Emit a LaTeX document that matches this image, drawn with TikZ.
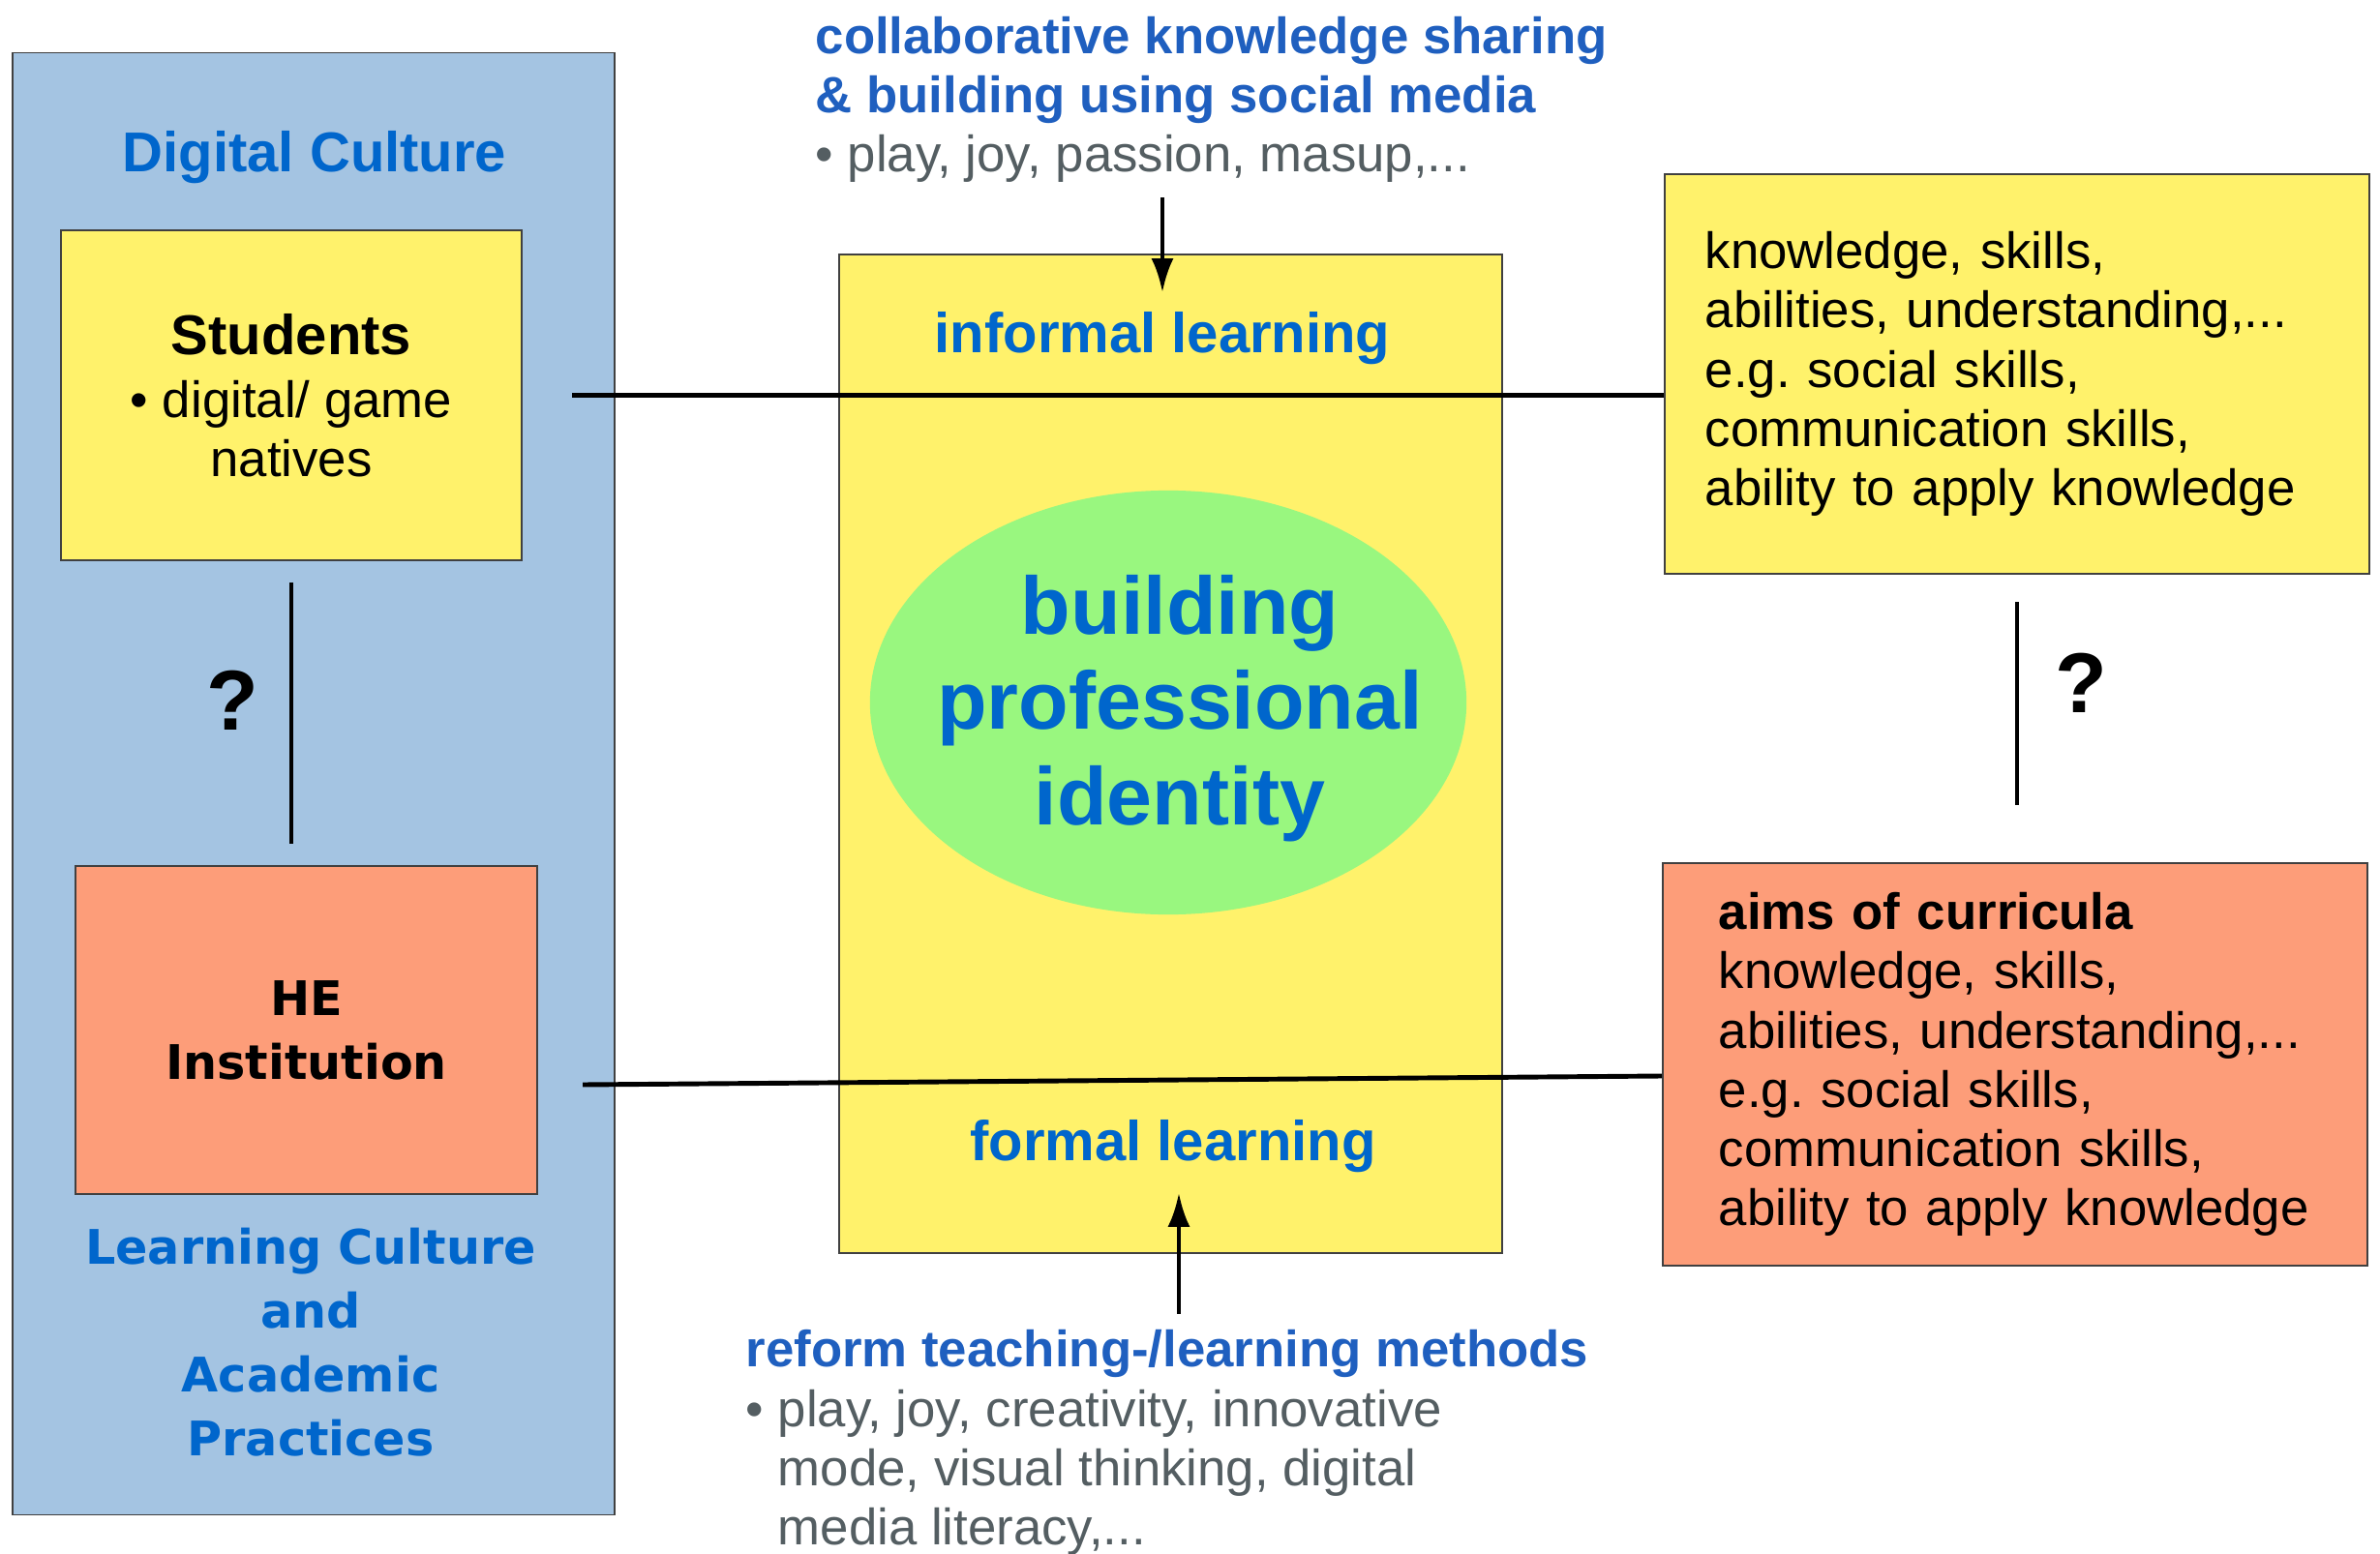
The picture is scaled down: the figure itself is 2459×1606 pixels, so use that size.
\documentclass[tikz,border=0pt]{standalone}
\usepackage{fontspec}
\setmainfont{Liberation Sans}
\newfontfamily\widefont{DejaVu Sans}
\usetikzlibrary{calc,arrows.meta,shapes.geometric}
\definecolor{cultureblue}{RGB}{164,196,226}
\definecolor{noteyellow}{RGB}{255,242,107}
\definecolor{noteorange}{RGB}{253,157,121}
\definecolor{identgreen}{RGB}{153,247,127}
\definecolor{titleblue}{RGB}{0,102,204}
\definecolor{headblue}{RGB}{31,95,191}
\definecolor{notegray}{RGB}{84,94,98}
\frenchspacing

\begin{document}
\begin{tikzpicture}[x=0.01cm, y=-0.01cm, >={Latex[length=10pt,width=6.5pt]},
	box/.style={draw=black!75, line width=0.5pt, inner sep=0pt},
	conn/.style={line width=1.4pt},
	body/.style={font=\fontsize{15}{17.4}\selectfont},
	head/.style={font=\fontsize{16.5}{19}\selectfont\bfseries, text=titleblue},
	wide/.style={font=\widefont\bfseries\fontsize{14}{18.8}\selectfont},
	quest/.style={font=\fontsize{25}{30}\selectfont\bfseries}]
			\useasboundingbox (0,0) rectangle (2459,1606);

			% Draw the culture column on the left
			\node[box, fill=cultureblue, minimum width=6.22cm, minimum height=15.10cm] (culture) at (324,810) {};
			\node[head] (digital) at (325,163) {Digital Culture};
			\node[box, fill=noteyellow, minimum width=4.76cm, minimum height=3.41cm, body, align=center] (students) at (301,408.5) {{\fontsize{16.5}{19}\selectfont\bfseries Students}\\[1pt]• digital/ game\\natives};
			\node[quest] (qleft) at (240,724) {?};
			\node[box, fill=noteorange, minimum width=4.77cm, minimum height=3.39cm, wide, align=center] (he) at (316.5,1064.5) {HE\\Institution};
			\node[wide, text=titleblue, align=center] (learning) at (321,1387) {Learning Culture\\and\\Academic\\Practices};

			% Draw the central box and the ellipse
			\node[box, fill=noteyellow, minimum width=6.85cm, minimum height=10.32cm] (centre) at (1209.5,779) {};
			\node[head] (informal) at (1201,350) {informal learning};
			\node[ellipse, fill=identgreen, minimum width=6.16cm, minimum height=4.38cm, inner sep=0pt] (identity) at (1207,726) {};
			\node[font=\fontsize{24}{28}\selectfont\bfseries, text=titleblue, align=center] (identitytext) at ($(identity)+(12,6)$) {building\\professional\\identity};
			\node[head] (formal) at (1212,1185) {formal learning};

			% Put the texts above and below
			\node[body, text=notegray, align=left, anchor=west, inner sep=0pt] (collab) at (842,103) {\textcolor{headblue}{\bfseries collaborative knowledge sharing}\\\textcolor{headblue}{\bfseries \& building using social media}\\• play, joy, passion, masup,...};
			\node[body, text=notegray, align=left, anchor=west, inner sep=0pt] (reform) at (770,1491) {\textcolor{headblue}{\bfseries reform teaching-/learning methods}\\• play, joy, creativity, innovative\\\phantom{• }mode, visual thinking, digital\\\phantom{• }media literacy,...};

			% Draw the boxes on the right
			\node[box, fill=noteyellow, minimum width=7.28cm, minimum height=4.13cm, body, align=left, text width=6.44cm] (knowbox) at (2084,386.5) {knowledge, skills,\\abilities, understanding,...\\e.g. social skills,\\communication skills,\\ability to apply knowledge};
			\node[quest] (qright) at (2150,706) {?};
			\node[box, fill=noteorange, minimum width=7.28cm, minimum height=4.16cm, body, align=left, text width=6.12cm] (aims) at (2082,1100) {\textbf{aims of curricula}\\knowledge, skills,\\abilities, understanding,...\\e.g. social skills,\\communication skills,\\ability to apply knowledge};

			% Draw the connecting lines
			\draw[conn] ($(students.south)+(0,22)$) -- ($(students.south |- he.north)+(0,-22)$);
			\draw[conn] ($(knowbox.south)+(0,28)$) -- ($(knowbox.south |- aims.north)+(0,-59)$);
			\draw[conn] ($(students.east)+(51,0)$) -- (students.east -| knowbox.west);
			\draw[conn] ($(he.east)+(46,56.5)$) -- ($(aims.west)+(0,12)$);

			% Draw the arrows
			\draw[conn, ->] ($(collab.south -| informal.north)+(0,15)$) -- ($(informal.north)+(0,-8)$);
			\draw[conn, ->] ($(formal.south |- reform.north)+(6,-16)$) -- ($(formal.south)+(6,8)$);
		\end{tikzpicture}
\end{document}
